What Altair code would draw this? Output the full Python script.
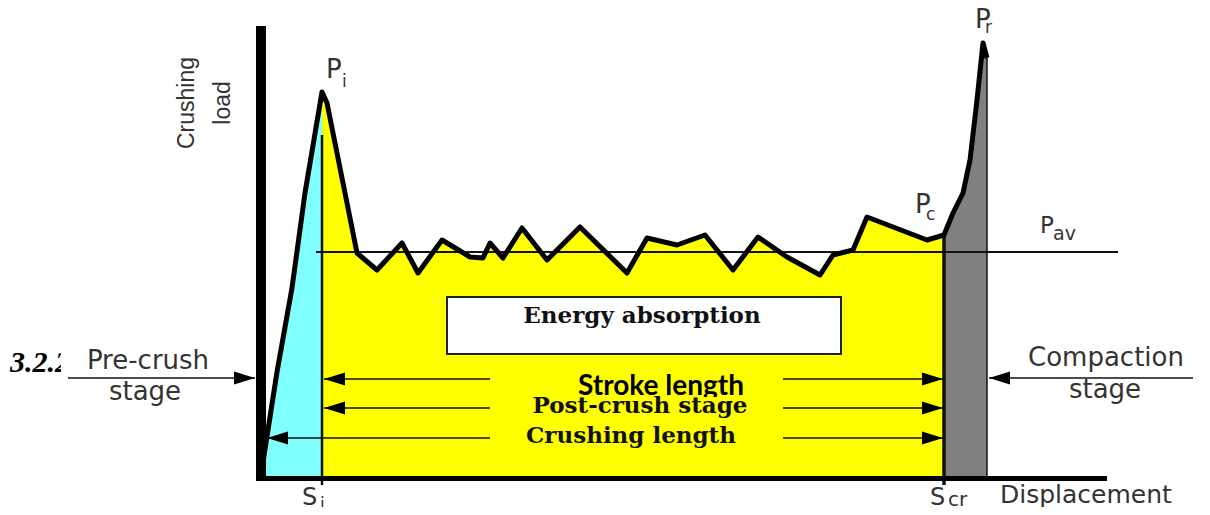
import altair as alt
import pandas as pd

# ---------------- data (displacement / load, arbitrary units) ----------------
curve_disp = [1, 15, 30, 43, 60, 65, 95, 115, 140, 156, 180, 208, 221, 228, 241, 260, 285,
              318, 365, 385, 415, 443, 471, 496, 525, 558, 571, 591, 605, 665, 682, 691,
              701, 708, 715, 721, 725]
curve_load = [16, 106, 190, 285, 386, 375, 225, 208, 235, 205, 238, 221, 220, 235, 220, 250,
              218, 251, 205, 240, 233, 243, 208, 241, 221, 203, 223, 228, 261, 238, 243, 265,
              285, 318, 378, 435, 420]

S_I = 60        # initial peak displacement
S_CR = 682      # end of crushing
S_END = 725     # end of compaction
P_AV = 226      # average crushing load
PAV_RANGE = [54, 856]

# axes drawn as thick bars
axis_x1 = [-6, -6]
axis_x2 = [4, 845]
axis_y1 = [-3, -3]
axis_y2 = [452, 2]

# vertical marker lines
vline_x = [S_I, S_CR, S_END]
vline_y1 = [-7, -7, 0]
vline_y2 = [343, 245, 420]
vline_w = [2.5, 3.5, 1.5]

# energy box
box_x = [185, 579]
box_y = [124, 181]

# arrows
arrow_x1 = [62, 521, 62, 521, 4, 521, -194, 727]
arrow_x2 = [228, 681, 228, 681, 228, 681, -7, 931]
arrow_y = [99, 99, 70, 70, 40, 40, 100, 100]
head_right_x = [681, 681, 681, -7]
head_right_y = [99, 70, 40, 100]
head_left_x = [62, 62, 5, 727]
head_left_y = [99, 70, 40, 100]

# text labels
serif_text = ["Energy absorption", "Post-crush stage", "Crushing length"]
serif_x = [380, 378, 369]
serif_y = [155, 65, 35]
serif_s = [23, 23, 23]

sans_text = ["Pre-crush", "stage", "Compaction", "stage"]
sans_x = [-114, -117, 844, 843]
sans_y = [109, 78, 112, 80]

lab_text = ["P", "i", "P", "r", "P", "c", "P", "av", "S", "i", "S", "cr", "Displacement"]
lab_x = [64, 80, 713, 723, 653, 664, 778, 791, 40, 58, 668, 686, 738]
lab_y = [400, 391, 450, 445, 265, 258, 245, 238, -27, -32, -27, -28, -25]
lab_s = [26, 17, 26, 17, 26, 17, 23, 19, 24, 17, 24, 20, 25]

rot_text = ["Crushing", "load"]
rot_x = [-75, -39]
rot_y = [375, 375]

# ---------------- chart ----------------
X = alt.Scale(domain=[-254, 940], nice=False, zero=False)
Y = alt.Scale(domain=[-29, 470], nice=False, zero=False)


def xq(f, **kw):
    return alt.X(f, type="quantitative", scale=X, axis=None, **kw)


def yq(f, **kw):
    return alt.Y(f, type="quantitative", scale=Y, axis=None, **kw)


curve = pd.DataFrame({"d": curve_disp, "L": curve_load})
base = alt.Chart(curve)

cyan = base.mark_area(color="#80FFFF", opacity=1).transform_filter(
    alt.datum.d <= S_I).encode(x=xq("d"), y=yq("L"), y2=alt.datum(0))
yellow = base.mark_area(color="#FFFF00", opacity=1).transform_filter(
    (alt.datum.d >= S_I) & (alt.datum.d <= S_CR)).encode(x=xq("d"), y=yq("L"), y2=alt.datum(0))
gray = base.mark_area(color="#808080", opacity=1).transform_filter(
    alt.datum.d >= S_CR).encode(x=xq("d"), y=yq("L"), y2=alt.datum(0))

box = alt.Chart(pd.DataFrame({"x1": [box_x[0]], "x2": [box_x[1]], "y1": [box_y[0]], "y2": [box_y[1]]})).mark_rect(
    fill="white", stroke="#222", strokeWidth=2).encode(x=xq("x1"), x2="x2", y=yq("y1"), y2="y2")

vdf = pd.DataFrame({"x": vline_x, "y1": vline_y1, "y2": vline_y2, "w": vline_w})
vlines = alt.Chart(vdf).mark_rule(color="#111").encode(
    x=xq("x"), y=yq("y1"), y2="y2", strokeWidth=alt.StrokeWidth("w:Q", scale=None))

pav = alt.Chart(pd.DataFrame({"x1": [PAV_RANGE[0]], "x2": [PAV_RANGE[1]], "y": [P_AV]})).mark_rule(
    color="#111", strokeWidth=2).encode(x=xq("x1"), x2="x2", y=yq("y"))

line = base.mark_line(color="black", strokeWidth=5, strokeJoin="round").encode(
    x=xq("d"), y=yq("L"))

axes = alt.Chart(pd.DataFrame({"x1": axis_x1, "x2": axis_x2, "y1": axis_y1, "y2": axis_y2})).mark_rect(
    color="black").encode(x=xq("x1"), x2="x2", y=yq("y1"), y2="y2")

num = alt.Chart(pd.DataFrame({"x": [-252], "y": [106], "t": ["3.2.2"]})).mark_text(
    font="Liberation Serif", fontWeight="bold", fontStyle="italic", fontSize=30,
    align="left", baseline="alphabetic", color="black").encode(x=xq("x"), y=yq("y"), text="t:N")
cover = alt.Chart(pd.DataFrame({"x1": [-201], "x2": [-186], "y1": [96], "y2": [140]})).mark_rect(
    color="white").encode(x=xq("x1"), x2="x2", y=yq("y1"), y2="y2")

arrows = alt.Chart(pd.DataFrame({"x1": arrow_x1, "x2": arrow_x2, "y": arrow_y})).mark_rule(
    color="#111", strokeWidth=1.6).encode(x=xq("x1"), x2="x2", y=yq("y"))
hr = alt.Chart(pd.DataFrame({"x": head_right_x, "y": head_right_y})).mark_point(
    shape="M0,0L-2,-0.62L-2,0.62Z", filled=True, color="black", opacity=1, size=441, strokeWidth=0
).encode(x=xq("x"), y=yq("y"))
hl = alt.Chart(pd.DataFrame({"x": head_left_x, "y": head_left_y})).mark_point(
    shape="M0,0L2,-0.62L2,0.62Z", filled=True, color="black", opacity=1, size=441, strokeWidth=0
).encode(x=xq("x"), y=yq("y"))

stroke_txt = alt.Chart(pd.DataFrame({"x": [399], "y": [83], "t": ["Stroke length"]})).mark_text(
    font="Lato", fontWeight="bold", fontSize=28, align="center", baseline="alphabetic",
    color="black").encode(x=xq("x"), y=yq("y"), text="t:N")
stroke_cut = alt.Chart(pd.DataFrame({"x1": [245], "x2": [512], "y1": [57], "y2": [81]})).mark_rect(
    color="#FFFF00").encode(x=xq("x1"), x2="x2", y=yq("y1"), y2="y2")

serif = alt.Chart(pd.DataFrame({"x": serif_x, "y": serif_y, "t": serif_text, "s": serif_s})).mark_text(
    font="DejaVu Serif", fontWeight="bold", align="center", baseline="alphabetic",
    color="#111").encode(x=xq("x"), y=yq("y"), text="t:N", size=alt.Size("s:Q", scale=None))

sans = alt.Chart(pd.DataFrame({"x": sans_x, "y": sans_y, "t": sans_text})).mark_text(
    font="DejaVu Sans", fontSize=26, align="center", baseline="alphabetic",
    color="#333").encode(x=xq("x"), y=yq("y"), text="t:N")

labs = alt.Chart(pd.DataFrame({"x": lab_x, "y": lab_y, "t": lab_text, "s": lab_s})).mark_text(
    font="DejaVu Sans", align="left", baseline="alphabetic", color="#333").encode(
    x=xq("x"), y=yq("y"), text="t:N", size=alt.Size("s:Q", scale=None))

rot = alt.Chart(pd.DataFrame({"x": rot_x, "y": rot_y, "t": rot_text})).mark_text(
    font="Liberation Sans", fontSize=23, align="center", baseline="middle", angle=270,
    color="#333").encode(x=xq("x"), y=yq("y"), text="t:N")

chart = alt.layer(
    cyan, yellow, gray, box, vlines, pav, line, axes, num, cover,
    arrows, hr, hl, stroke_txt, stroke_cut, serif, sans, labs, rot
).properties(
    width=1194, height=499,
    autosize=alt.AutoSizeParams(type="none"), padding=0, background="white"
).configure_view(stroke=None)

chart.save("out.html", embed_options={"renderer": "svg", "actions": False})
